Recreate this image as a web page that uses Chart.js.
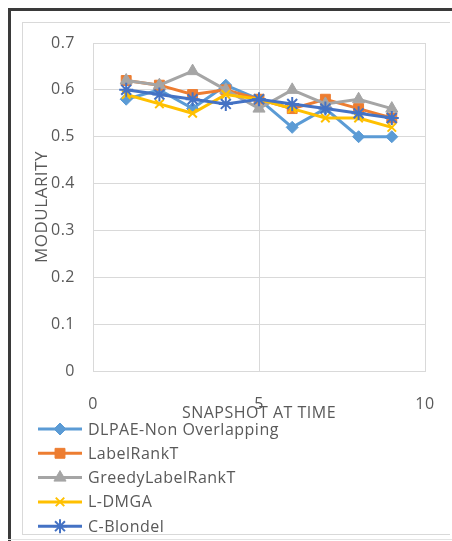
<!DOCTYPE html>
<html>
<head>
<meta charset="utf-8">
<script src="https://cdn.jsdelivr.net/npm/chart.js@4/dist/chart.umd.min.js"></script>
<style>
  html, body { margin: 0; padding: 0; background: #fff; }
  #wrap { position: relative; width: 452px; height: 541px; overflow: hidden; }
  #outer { position: absolute; left: 8px; top: 8px; width: 460px; height: 560px;
           border-left: 3px solid #3a3a3a; border-top: 3px solid #3a3a3a; }
  #inner { position: absolute; left: 22px; top: 22px; width: 427px; height: 511px;
           border-left: 1px solid #d9d9d9; border-top: 1px solid #d9d9d9; border-bottom: 1px solid #d9d9d9; }
  #base { position: absolute; left: 8px; top: 539px; width: 444px; height: 0; border-top: 1px solid #e3e3e3; }
  canvas { position: absolute; left: 0; top: 0; }
</style>
</head>
<body>
<div id="wrap">
  <div id="outer"></div>
  <div id="inner"></div>
  <div id="base"></div>
  <canvas id="c" width="452" height="541"></canvas>
</div>
<script>
// ---- data ----
const snapshots = [1, 2, 3, 4, 5, 6, 7, 8, 9];
const seriesNames = ["DLPAE-Non Overlapping", "LabelRankT", "GreedyLabelRankT", "L-DMGA", "C-Blondel"];
const dlpae      = [0.58, 0.60, 0.56, 0.61, 0.58, 0.52, 0.56, 0.50, 0.50];
const labelRankT = [0.62, 0.61, 0.59, 0.60, 0.58, 0.56, 0.58, 0.56, 0.54];
const greedyLRT  = [0.62, 0.61, 0.64, 0.60, 0.56, 0.60, 0.57, 0.58, 0.56];
const lDmga      = [0.59, 0.57, 0.55, 0.59, 0.58, 0.56, 0.54, 0.54, 0.52];
const cBlondel   = [0.60, 0.59, 0.58, 0.57, 0.58, 0.57, 0.56, 0.55, 0.54];
const xTickValues = [0, 5, 10];
const yTickLabels = ["0", "0.1", "0.2", "0.3", "0.4", "0.5", "0.6", "0.7"];
const xTitle = "SNAPSHOT AT TIME";
const yTitle = "MODULARITY";

const colors = ["#5B9BD5", "#ED7D31", "#A5A5A5", "#FFC000", "#4472C4"];
const markers = ["rectRot", "rect", "triangle", "crossRot", "star"];
const markerSizes = [6, 7, 7, 6, 7];
const seriesValues = [dlpae, labelRankT, greedyLRT, lDmga, cBlondel];

const FONT = "'Open Sans', 'Liberation Sans', sans-serif";
const FS = 16;
const TEXT = "#595959";

const datasets = seriesNames.map((name, i) => ({
  label: name,
  data: snapshots.map((x, k) => ({ x: x, y: seriesValues[i][k] })),
  borderColor: colors[i],
  backgroundColor: colors[i],
  borderWidth: 3,
  pointStyle: markers[i],
  pointRadius: markerSizes[i],
  pointBorderWidth: (markers[i] === "crossRot" || markers[i] === "star") ? 2 : 1,
  pointBorderColor: colors[i],
  pointBackgroundColor: colors[i],
  tension: 0,
  order: seriesNames.length - i
}));

const spacingPlugin = {
  id: "spacing",
  beforeDraw(chart) { chart.ctx.letterSpacing = "0.5px"; }
};

const legendPlugin = {
  id: "excelLegend",
  afterDraw(chart) {
    const ctx = chart.ctx;
    const base = chart.scales.x.bottom;
    ctx.save();
    ctx.letterSpacing = "0.5px";
    ctx.font = FS + "px " + FONT;
    ctx.textBaseline = "middle";
    ctx.textAlign = "left";
    datasets.forEach((ds, i) => {
      const y = base + 6 + i * 24.3;
      ctx.strokeStyle = ds.borderColor;
      ctx.fillStyle = ds.backgroundColor;
      ctx.lineWidth = 3;
      ctx.beginPath();
      ctx.moveTo(38, y);
      ctx.lineTo(82, y);
      ctx.stroke();
      ctx.lineWidth = ds.pointBorderWidth;
      Chart.helpers.drawPoint(ctx, { pointStyle: ds.pointStyle, radius: ds.pointRadius, borderWidth: ds.pointBorderWidth, rotation: 0 }, 60, y);
      ctx.fillStyle = TEXT;
      ctx.fillText(ds.label, 88, y + 1);
    });
    ctx.restore();
  }
};

new Chart(document.getElementById("c"), {
  type: "line",
  data: { datasets: datasets },
  options: {
    responsive: false,
    animation: false,
    layout: { padding: { left: 28, right: 27, top: 43, bottom: 118 } },
    plugins: { legend: { display: false }, tooltip: { enabled: false } },
    scales: {
      x: {
        type: "linear",
        min: 0, max: 10,
        afterBuildTicks(scale) { scale.ticks = xTickValues.map(v => ({ value: v })); },
        afterFit(scale) { scale.height = 52; },
        grid: { color: "#d9d9d9", lineWidth: 1, drawTicks: true, tickLength: 8, tickColor: "rgba(0,0,0,0)" },
        border: { color: "#d9d9d9" },
        ticks: { padding: 16, color: TEXT, font: { family: FONT, size: FS }, maxRotation: 0 },
        title: { display: true, text: xTitle, color: TEXT, font: { family: FONT, size: FS }, padding: { top: 0, bottom: 0 } }
      },
      y: {
        min: 0, max: 0.7,
        afterBuildTicks(scale) { scale.ticks = yTickLabels.map(t => ({ value: parseFloat(t) })); },
        afterFit(scale) { scale.width = 65; },
        grid: { color: "#d9d9d9", lineWidth: 1, drawTicks: false },
        border: { color: "#d9d9d9" },
        ticks: {
          padding: 18, color: TEXT, font: { family: FONT, size: FS },
          callback: (v, idx) => yTickLabels[idx]
        },
        title: { display: true, text: yTitle, color: TEXT, font: { family: FONT, size: FS + 1 }, padding: { top: 4, bottom: 0 } }
      }
    }
  },
  plugins: [spacingPlugin, legendPlugin]
});
</script>
</body>
</html>
